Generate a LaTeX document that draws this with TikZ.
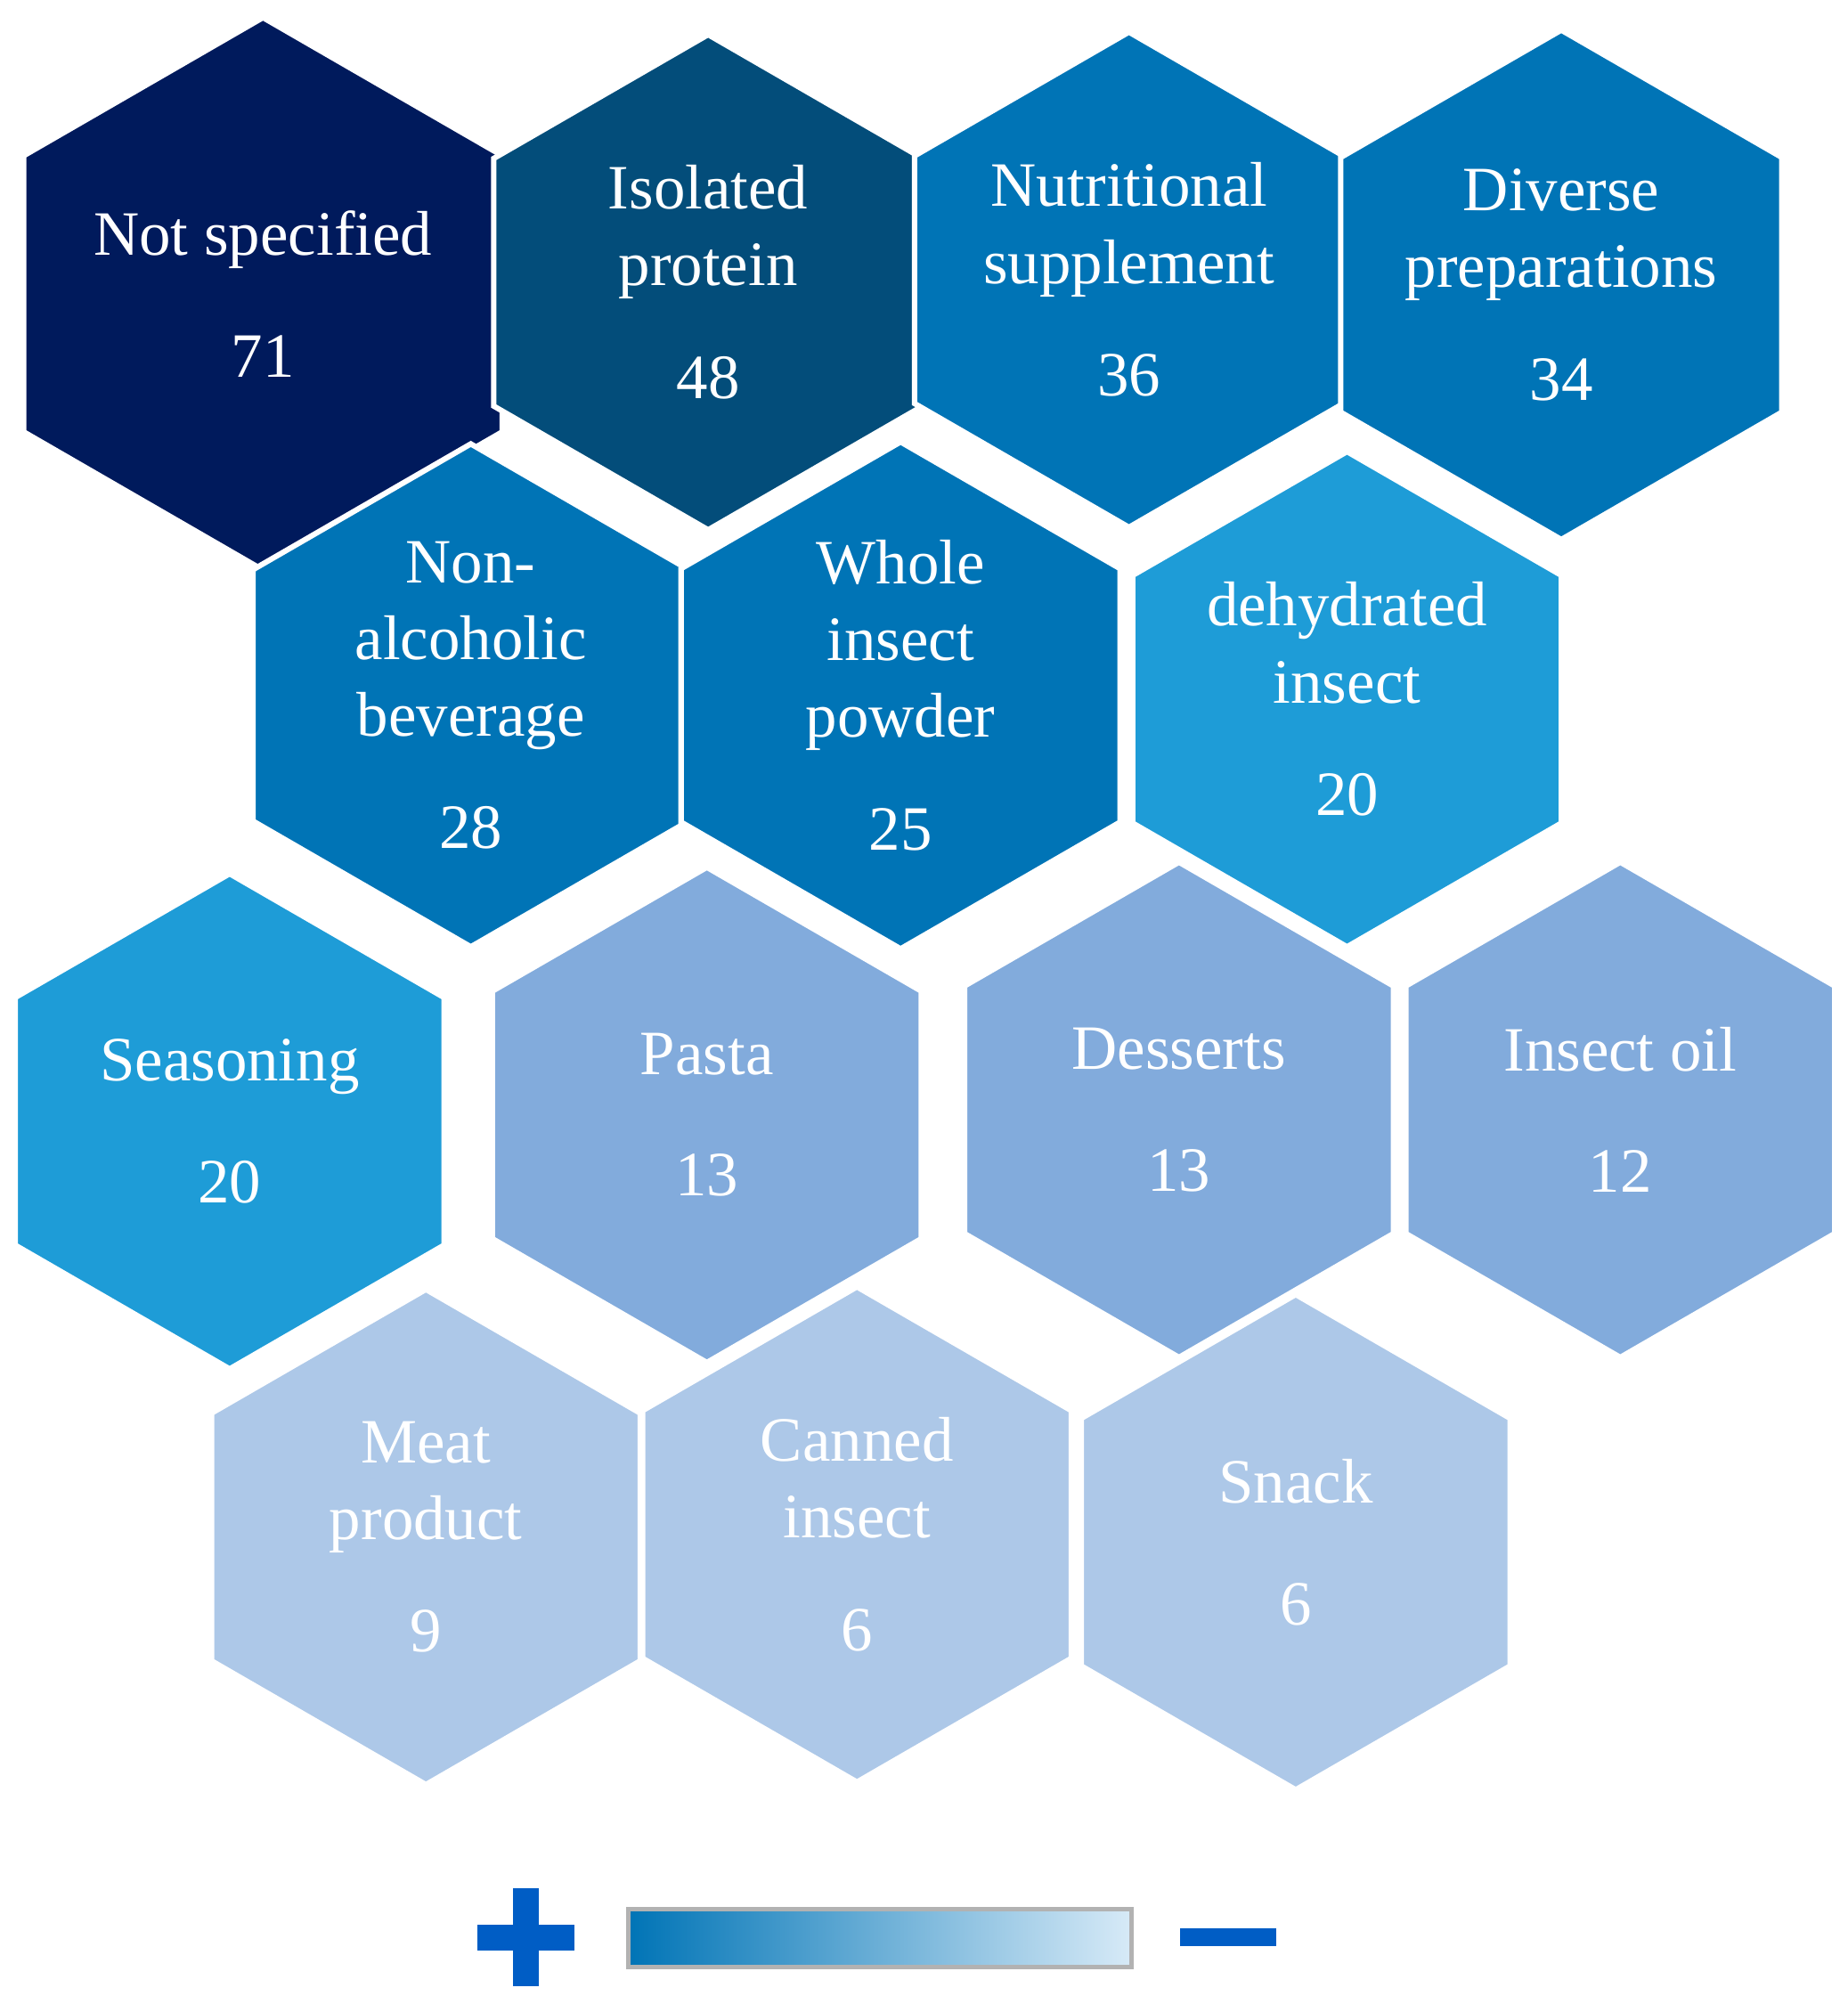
\documentclass[tikz,border=0pt]{standalone}
\usepackage{fontspec}
\setmainfont{Liberation Serif}
\usetikzlibrary{shapes.geometric}
\definecolor{navy}{HTML}{001A5C}
\definecolor{petrol}{HTML}{034D7A}
\definecolor{mid}{HTML}{0074B6}
\definecolor{sky}{HTML}{1E9CD7}
\definecolor{soft}{HTML}{82ABDC}
\definecolor{pale}{HTML}{ADC8E8}
\definecolor{barlo}{HTML}{D7EAF7}
\begin{document}
\begin{tikzpicture}[
    hex/.style={regular polygon, regular polygon sides=6, shape border rotate=30, minimum size=3.86cm, inner sep=0pt,
      draw=white, line width=1.2pt, fill=#1, text=white, align=center, font=\fontsize{14}{17}\selectfont},
    sign/.style={fill=mid!80!blue}
]
\useasboundingbox (0,0) rectangle (14.4,-15.62);

% Row 1
\node[hex=navy] (notspec) at (2.05,-2.29) {Not specified\\[10pt]71};
\node[hex=petrol] (isolated) at (5.52,-2.20) {Isolated\\protein\\[8pt]48};
\node[hex=mid] (nutri) at (8.80,-2.18) {Nutritional\\supplement\\[8pt]36};
\node[hex=mid] (diverse) at (12.17,-2.22) {Diverse\\preparations\\[8pt]34};

% Row 2
\node[hex=mid] (nonalc) at (3.67,-5.42) {Non-\\alcoholic\\beverage\\[8pt]28};
\node[hex=mid] (whole) at (7.02,-5.42) {Whole\\insect\\powder\\[8pt]25};
\node[hex=sky] (dehyd) at (10.50,-5.45) {dehydrated\\insect\\[8pt]20};

% Row 3
\node[hex=sky] (season) at (1.79,-8.74) {Seasoning\\[10pt]20};
\node[hex=soft] (pasta) at (5.51,-8.69) {Pasta\\[10pt]13};
\node[hex=soft] (desserts) at (9.19,-8.65) {Desserts\\[10pt]13};
\node[hex=soft] (oil) at (12.63,-8.65) {Insect oil\\[10pt]12};

% Row 4
\node[hex=pale] (meat) at (3.32,-11.98) {Meat\\product\\[8pt]9};
\node[hex=pale] (canned) at (6.68,-11.96) {Canned\\insect\\[8pt]6};
\node[hex=pale] (snack) at (10.10,-12.02) {Snack\\[10pt]6};

% Legend
\fill[sign] (3.72,-15.00) rectangle (4.48,-15.20);
\fill[sign] (4.00,-14.72) rectangle (4.20,-15.48);
\shade[left color=mid, right color=barlo, draw=gray!60, line width=1pt] (4.90,-14.88) rectangle (8.82,-15.33);
\fill[sign] (9.20,-15.03) rectangle (9.95,-15.17);

\end{tikzpicture}
\end{document}
